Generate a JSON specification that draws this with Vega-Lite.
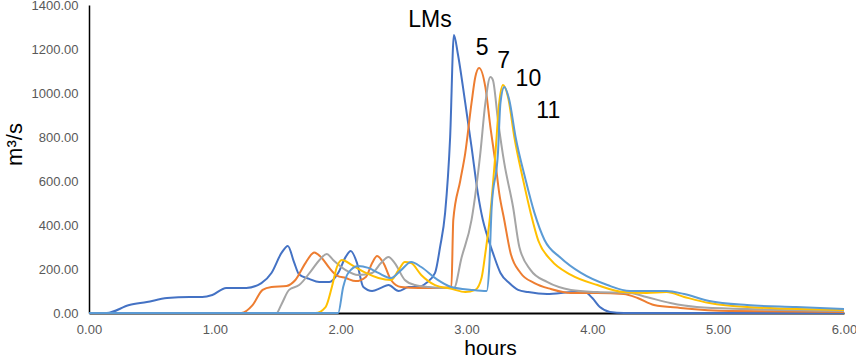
{
  "$schema": "https://vega.github.io/schema/vega-lite/v6.json",
  "width": 755,
  "height": 308,
  "autosize": {"type": "none"},
  "padding": {"left": 89, "top": 5, "right": 12, "bottom": 46},
  "background": "white",
  "config": {
    "view": {"stroke": null},
    "font": "Liberation Sans"
  },
  "layer": [
    {
      "data": {
        "values": [
          {"s":"LMs","h":0,"v":0},{"s":"LMs","h":0.14,"v":0},{"s":"LMs","h":0.32,"v":36},{"s":"LMs","h":0.46,"v":50},{"s":"LMs","h":0.62,"v":68},{"s":"LMs","h":0.8,"v":73},{"s":"LMs","h":0.9,"v":73},{"s":"LMs","h":0.98,"v":82},{"s":"LMs","h":1.09,"v":114},{"s":"LMs","h":1.25,"v":114},{"s":"LMs","h":1.37,"v":136},{"s":"LMs","h":1.45,"v":182},{"s":"LMs","h":1.53,"v":273},{"s":"LMs","h":1.58,"v":305},{"s":"LMs","h":1.63,"v":230},{"s":"LMs","h":1.67,"v":175},{"s":"LMs","h":1.75,"v":155},{"s":"LMs","h":1.83,"v":141},{"s":"LMs","h":1.91,"v":141},{"s":"LMs","h":1.98,"v":182},{"s":"LMs","h":2.04,"v":255},{"s":"LMs","h":2.08,"v":282},{"s":"LMs","h":2.13,"v":227},{"s":"LMs","h":2.18,"v":118},{"s":"LMs","h":2.25,"v":100},{"s":"LMs","h":2.32,"v":114},{"s":"LMs","h":2.38,"v":127},{"s":"LMs","h":2.46,"v":100},{"s":"LMs","h":2.54,"v":118},{"s":"LMs","h":2.62,"v":118},{"s":"LMs","h":2.68,"v":136},{"s":"LMs","h":2.75,"v":182},{"s":"LMs","h":2.79,"v":300},{"s":"LMs","h":2.83,"v":455},{"s":"LMs","h":2.87,"v":800},{"s":"LMs","h":2.9,"v":1264},{"s":"LMs","h":2.93,"v":1182},{"s":"LMs","h":2.99,"v":955},{"s":"LMs","h":3.04,"v":755},{"s":"LMs","h":3.09,"v":545},{"s":"LMs","h":3.13,"v":423},{"s":"LMs","h":3.16,"v":360},{"s":"LMs","h":3.21,"v":273},{"s":"LMs","h":3.27,"v":182},{"s":"LMs","h":3.34,"v":136},{"s":"LMs","h":3.41,"v":105},{"s":"LMs","h":3.49,"v":95},{"s":"LMs","h":3.64,"v":86},{"s":"LMs","h":3.86,"v":95},{"s":"LMs","h":3.94,"v":95},{"s":"LMs","h":4.0,"v":68},{"s":"LMs","h":4.06,"v":27},{"s":"LMs","h":4.14,"v":5},{"s":"LMs","h":4.25,"v":0},{"s":"LMs","h":6.0,"v":0},
          {"s":"5","h":0,"v":0},{"s":"5","h":1.21,"v":0},{"s":"5","h":1.3,"v":36},{"s":"5","h":1.38,"v":105},{"s":"5","h":1.45,"v":118},{"s":"5","h":1.57,"v":123},{"s":"5","h":1.64,"v":150},{"s":"5","h":1.72,"v":227},{"s":"5","h":1.79,"v":275},{"s":"5","h":1.85,"v":250},{"s":"5","h":1.91,"v":205},{"s":"5","h":1.97,"v":170},{"s":"5","h":2.04,"v":159},{"s":"5","h":2.12,"v":145},{"s":"5","h":2.2,"v":164},{"s":"5","h":2.25,"v":227},{"s":"5","h":2.29,"v":259},{"s":"5","h":2.34,"v":227},{"s":"5","h":2.4,"v":150},{"s":"5","h":2.48,"v":118},{"s":"5","h":2.62,"v":114},{"s":"5","h":2.77,"v":114},{"s":"5","h":2.88,"v":118},{"s":"5","h":2.895,"v":423},{"s":"5","h":2.95,"v":600},{"s":"5","h":2.99,"v":727},{"s":"5","h":3.04,"v":955},{"s":"5","h":3.07,"v":1073},{"s":"5","h":3.1,"v":1114},{"s":"5","h":3.15,"v":1027},{"s":"5","h":3.19,"v":845},{"s":"5","h":3.23,"v":682},{"s":"5","h":3.26,"v":545},{"s":"5","h":3.3,"v":423},{"s":"5","h":3.35,"v":273},{"s":"5","h":3.43,"v":182},{"s":"5","h":3.54,"v":136},{"s":"5","h":3.67,"v":109},{"s":"5","h":3.83,"v":91},{"s":"5","h":4.04,"v":91},{"s":"5","h":4.25,"v":86},{"s":"5","h":4.36,"v":68},{"s":"5","h":4.49,"v":36},{"s":"5","h":4.7,"v":23},{"s":"5","h":5.09,"v":9},{"s":"5","h":6.0,"v":5},
          {"s":"7","h":0,"v":0},{"s":"7","h":1.49,"v":0},{"s":"7","h":1.53,"v":40},{"s":"7","h":1.59,"v":105},{"s":"7","h":1.67,"v":127},{"s":"7","h":1.77,"v":195},{"s":"7","h":1.83,"v":240},{"s":"7","h":1.89,"v":268},{"s":"7","h":1.94,"v":241},{"s":"7","h":2.04,"v":195},{"s":"7","h":2.14,"v":173},{"s":"7","h":2.25,"v":182},{"s":"7","h":2.32,"v":227},{"s":"7","h":2.38,"v":255},{"s":"7","h":2.43,"v":227},{"s":"7","h":2.51,"v":150},{"s":"7","h":2.59,"v":127},{"s":"7","h":2.7,"v":118},{"s":"7","h":2.83,"v":114},{"s":"7","h":2.9,"v":114},{"s":"7","h":2.96,"v":250},{"s":"7","h":3.04,"v":423},{"s":"7","h":3.11,"v":727},{"s":"7","h":3.15,"v":955},{"s":"7","h":3.19,"v":1073},{"s":"7","h":3.21,"v":1059},{"s":"7","h":3.25,"v":877},{"s":"7","h":3.3,"v":682},{"s":"7","h":3.37,"v":482},{"s":"7","h":3.42,"v":300},{"s":"7","h":3.51,"v":195},{"s":"7","h":3.64,"v":141},{"s":"7","h":3.83,"v":105},{"s":"7","h":4.04,"v":95},{"s":"7","h":4.3,"v":91},{"s":"7","h":4.43,"v":73},{"s":"7","h":4.62,"v":45},{"s":"7","h":4.83,"v":27},{"s":"7","h":5.23,"v":18},{"s":"7","h":6.0,"v":9},
          {"s":"10","h":0,"v":0},{"s":"10","h":1.8,"v":0},{"s":"10","h":1.88,"v":27},{"s":"10","h":1.93,"v":118},{"s":"10","h":1.97,"v":209},{"s":"10","h":2.01,"v":241},{"s":"10","h":2.09,"v":218},{"s":"10","h":2.2,"v":182},{"s":"10","h":2.3,"v":159},{"s":"10","h":2.4,"v":150},{"s":"10","h":2.46,"v":195},{"s":"10","h":2.51,"v":232},{"s":"10","h":2.56,"v":227},{"s":"10","h":2.64,"v":173},{"s":"10","h":2.75,"v":127},{"s":"10","h":2.88,"v":110},{"s":"10","h":2.99,"v":95},{"s":"10","h":3.07,"v":105},{"s":"10","h":3.12,"v":160},{"s":"10","h":3.15,"v":273},{"s":"10","h":3.19,"v":455},{"s":"10","h":3.23,"v":727},{"s":"10","h":3.26,"v":955},{"s":"10","h":3.29,"v":1036},{"s":"10","h":3.33,"v":982},{"s":"10","h":3.38,"v":800},{"s":"10","h":3.45,"v":605},{"s":"10","h":3.51,"v":455},{"s":"10","h":3.57,"v":330},{"s":"10","h":3.67,"v":241},{"s":"10","h":3.83,"v":173},{"s":"10","h":4.04,"v":127},{"s":"10","h":4.25,"v":95},{"s":"10","h":4.43,"v":91},{"s":"10","h":4.59,"v":95},{"s":"10","h":4.73,"v":73},{"s":"10","h":4.93,"v":45},{"s":"10","h":5.23,"v":27},{"s":"10","h":6.0,"v":14},
          {"s":"11","h":0,"v":0},{"s":"11","h":1.98,"v":0},{"s":"11","h":2.02,"v":118},{"s":"11","h":2.06,"v":182},{"s":"11","h":2.14,"v":214},{"s":"11","h":2.22,"v":205},{"s":"11","h":2.3,"v":182},{"s":"11","h":2.4,"v":159},{"s":"11","h":2.48,"v":195},{"s":"11","h":2.56,"v":232},{"s":"11","h":2.64,"v":209},{"s":"11","h":2.76,"v":155},{"s":"11","h":2.88,"v":118},{"s":"11","h":3.04,"v":105},{"s":"11","h":3.16,"v":100},{"s":"11","h":3.18,"v":200},{"s":"11","h":3.2,"v":480},{"s":"11","h":3.25,"v":727},{"s":"11","h":3.27,"v":955},{"s":"11","h":3.3,"v":1027},{"s":"11","h":3.34,"v":968},{"s":"11","h":3.39,"v":800},{"s":"11","h":3.47,"v":605},{"s":"11","h":3.54,"v":455},{"s":"11","h":3.62,"v":332},{"s":"11","h":3.75,"v":250},{"s":"11","h":3.91,"v":182},{"s":"11","h":4.12,"v":127},{"s":"11","h":4.3,"v":100},{"s":"11","h":4.49,"v":100},{"s":"11","h":4.59,"v":100},{"s":"11","h":4.73,"v":86},{"s":"11","h":4.93,"v":55},{"s":"11","h":5.23,"v":36},{"s":"11","h":5.62,"v":27},{"s":"11","h":6.0,"v":18}
        ]
      },
      "mark": {"type": "line", "interpolate": "monotone", "strokeWidth": 2},
      "encoding": {
        "x": {
          "field": "h", "type": "quantitative",
          "scale": {"domain": [0, 6], "nice": false, "zero": false},
          "axis": {
            "title": "hours", "values": [0,1,2,3,4,5,6], "format": ".2f",
            "grid": false, "ticks": false, "tickSize": 0,
            "domainColor": "#000000", "domainWidth": 2,
            "labelFont": "Liberation Sans", "labelFontSize": 13, "labelColor": "#595959",
            "labelBaseline": "alphabetic", "labelPadding": 20, "labelFlush": false,
            "titleFont": "Liberation Sans", "titleFontSize": 21, "titleFontWeight": "normal", "titleColor": "#000000",
            "titleX": 401, "titleY": 41, "titleBaseline": "alphabetic", "titleAlign": "center"
          }
        },
        "y": {
          "field": "v", "type": "quantitative",
          "scale": {"domain": [0, 1400], "nice": false},
          "axis": {
            "title": "m³/s", "values": [0,200,400,600,800,1000,1200,1400], "format": ".2f",
            "grid": false, "ticks": false, "tickSize": 0,
            "domainColor": "#000000", "domainWidth": 1.5,
            "labelFont": "Liberation Sans", "labelFontSize": 13, "labelColor": "#595959",
            "labelPadding": 11, "labelFlush": false,
            "titleFont": "Liberation Sans", "titleFontSize": 22, "titleFontWeight": "normal", "titleColor": "#000000",
            "titleAngle": -90, "titleX": -75, "titleY": 139, "titleBaseline": "middle", "titleAlign": "center"
          }
        },
        "color": {
          "field": "s", "type": "nominal",
          "scale": {"domain": ["LMs","5","7","10","11"], "range": ["#4472C4","#ED7D31","#A5A5A5","#FFC000","#5B9BD5"]},
          "legend": null
        }
      }
    },
    {
      "data": {
        "values": [
          {"label":"LMs","h":2.71,"v":1300},
          {"label":"5","h":3.125,"v":1173},
          {"label":"7","h":3.296,"v":1114},
          {"label":"10","h":3.492,"v":1032},
          {"label":"11","h":3.65,"v":886}
        ]
      },
      "mark": {"type": "text", "font": "Liberation Sans", "fontSize": 23, "color": "#000000", "align": "center", "baseline": "alphabetic"},
      "encoding": {
        "x": {"field": "h", "type": "quantitative"},
        "y": {"field": "v", "type": "quantitative"},
        "text": {"field": "label"}
      }
    }
  ]
}
